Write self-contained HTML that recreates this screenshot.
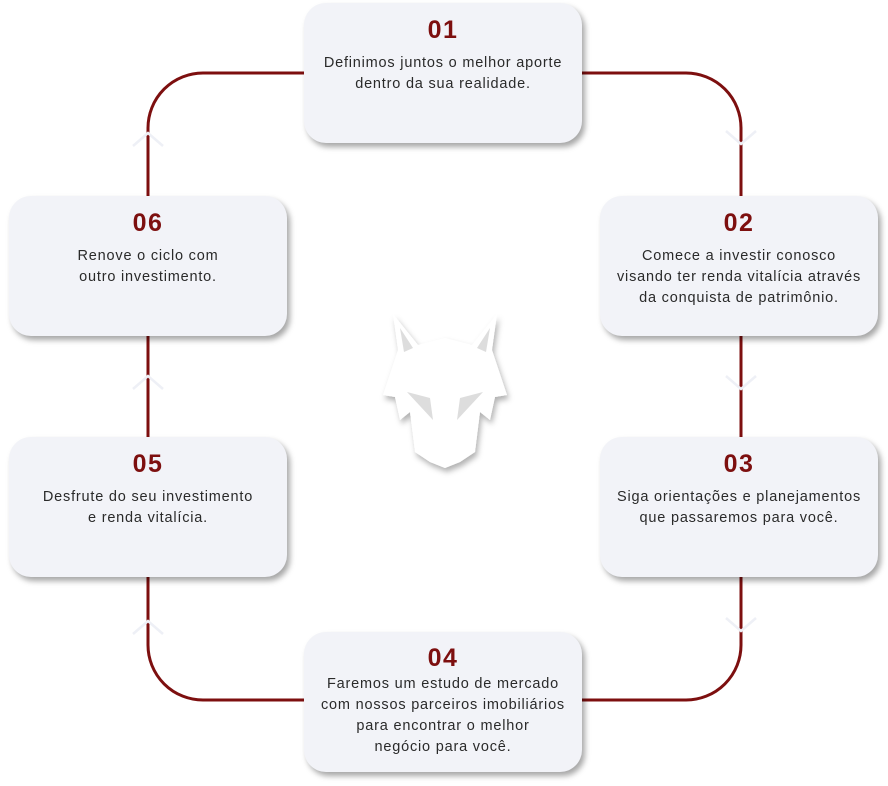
<!DOCTYPE html>
<html><head><meta charset="utf-8"><style>
body{margin:0;width:888px;height:786px;background:#fff;position:relative;overflow:hidden;font-family:"Liberation Sans",sans-serif}
.c{position:absolute;width:278px;height:140px;background:#f2f3f8;border-radius:22px;box-shadow:3px 4px 6px rgba(0,0,0,.35);text-align:center;color:#2a2a2a;font-size:14.5px;letter-spacing:0.8px;line-height:21px}
.c b{display:block;color:#7d0f0f;font-size:25px;letter-spacing:1.5px;line-height:28px;font-weight:bold;margin-top:13px;margin-bottom:9px}
svg{position:absolute;left:0;top:0}
</style></head><body>
<svg width="888" height="786">
<path d="M203 73 H686 A55 55 0 0 1 741 128 V645 A55 55 0 0 1 686 700 H203 A55 55 0 0 1 148 645 V128 A55 55 0 0 1 203 73 Z" fill="none" stroke="#7d0f0f" stroke-width="3"/>
<g stroke="#eef0f6" stroke-width="2.5" fill="none">
<path d="M726 131 L741 144 L756 131"/><path d="M726 376 L741 389 L756 376"/><path d="M726 618 L741 631 L756 618"/>
<path d="M133 146 L148 133 L163 146"/><path d="M133 389 L148 376 L163 389"/><path d="M133 634 L148 621 L163 634"/>
</g>
<defs><filter id="s"><feDropShadow dx="2" dy="4" stdDeviation="3" flood-opacity=".3"/></filter></defs>
<g filter="url(#s)" fill="#fff">
<path d="M393 314 L418 345 L445 338 L472 345 L497 314 L492 350 L507 395 L495 397 L490 420 L480 412 L475 452 L460 462 L445 468 L430 462 L415 452 L410 412 L400 420 L395 397 L383 395 L398 350 Z"/>
</g>
<g fill="#ddd"><path d="M400 328 L404 352 L413 348Z"/><path d="M490 328 L486 352 L477 348Z"/>
<path d="M407 392 L430 398 L433 420Z"/><path d="M483 392 L460 398 L457 420Z"/></g>
</svg>
<div class="c" style="left:304px;top:3px"><b>01</b>Definimos juntos o melhor aporte<br>dentro da sua realidade.</div>
<div class="c" style="left:600px;top:196px"><b>02</b>Comece a investir conosco<br>visando ter renda vitalícia através<br>da conquista de patrimônio.</div>
<div class="c" style="left:600px;top:437px"><b>03</b>Siga orientações e planejamentos<br>que passaremos para você.</div>
<div class="c" style="left:304px;top:632px"><b style="margin-top:12px;margin-bottom:2px">04</b>Faremos um estudo de mercado<br>com nossos parceiros imobiliários<br>para encontrar o melhor<br>negócio para você.</div>
<div class="c" style="left:9px;top:437px"><b>05</b>Desfrute do seu investimento<br>e renda vitalícia.</div>
<div class="c" style="left:9px;top:196px"><b>06</b>Renove o ciclo com<br>outro investimento.</div>
</body></html>
